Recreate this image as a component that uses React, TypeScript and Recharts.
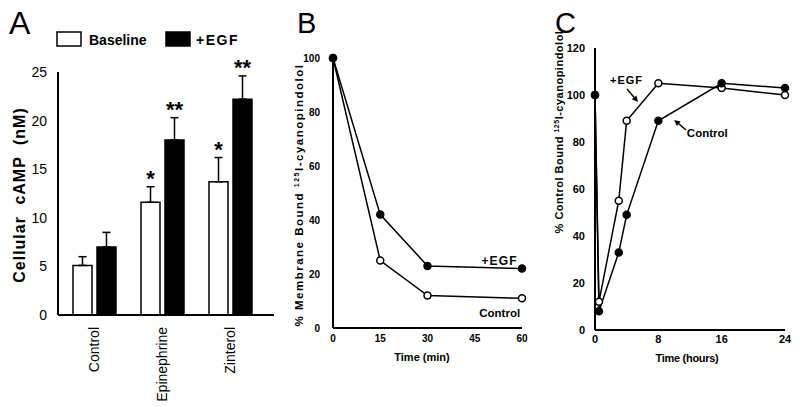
import React from "react";
import {
  BarChart,
  Bar,
  ErrorBar,
  LabelList,
  LineChart,
  Line,
  XAxis,
  YAxis,
  ReferenceDot,
  ReferenceLine,
} from "recharts";

// Panel A: cellular cAMP
const CATEGORIES = ["Control", "Epinephrine", "Zinterol"];
const BASELINE = [5.1, 11.6, 13.7];
const BASELINE_ERR = [0.9, 1.6, 2.5];
const BASELINE_SIG = ["", "*", "*"];
const EGF = [7.0, 18.0, 22.2];
const EGF_ERR = [1.5, 2.3, 2.4];
const EGF_SIG = ["", "**", "**"];
const A_TICKS = [0, 5, 10, 15, 20, 25];

// Panel B: membrane bound, time in minutes
const B_TIME = [0, 15, 30, 60];
const B_EGF = [100, 42, 23, 22];
const B_CONTROL = [100, 25, 12, 11];
const B_XTICKS = [0, 15, 30, 45, 60];
const B_YTICKS = [0, 20, 40, 60, 80, 100];

// Panel C: recovery, time in hours
const C_TIME = [0, 0.5, 3, 4, 8, 16, 24];
const C_EGF = [100, 12, 55, 89, 105, 103, 100];
const C_CONTROL = [100, 8, 33, 49, 89, 105, 103];
const C_XTICKS = [0, 8, 16, 24];
const C_YTICKS = [0, 20, 40, 60, 80, 100, 120];

const FONT = "'Liberation Sans', Arial, sans-serif";

const barData = CATEGORIES.map((name, i) => ({
  name,
  baseline: BASELINE[i],
  baselineErr: [0, BASELINE_ERR[i]],
  baselineSig: BASELINE_SIG[i],
  egf: EGF[i],
  egfErr: [0, EGF_ERR[i]],
  egfSig: EGF_SIG[i],
}));

const bData = B_TIME.map((t, i) => ({ t, egf: B_EGF[i], control: B_CONTROL[i] }));
const cData = C_TIME.map((t, i) => ({ t, egf: C_EGF[i], control: C_CONTROL[i] }));

const CategoryTick = ({ x, y, payload }: any) => (
  <text
    transform={`translate(${x},${y + 10}) rotate(-90)`}
    textAnchor="end"
    dy="0.35em"
    fontSize={14}
    fontFamily={FONT}
    fill="#000"
  >
    {payload.value}
  </text>
);

// asterisks sit above the error bar top; bar height/value gives px per unit
const sigLabel = (vals: number[], errs: number[]) => (props: any) => {
  const { x, y, width, height, value, index } = props;
  if (!value) return null;
  const perUnit = height / vals[index];
  const top = y - errs[index] * perUnit;
  return (
    <text
      x={x + width / 2}
      y={top - 1}
      textAnchor="middle"
      fontSize={22}
      fontWeight="bold"
      fontFamily={FONT}
      fill="#000"
    >
      {value}
    </text>
  );
};

const openDot = { r: 3.5, fill: "#fff", stroke: "#000", strokeWidth: 1.5 };
const filledDot = { r: 3.5, fill: "#000", stroke: "#000", strokeWidth: 1.5 };

const Arrow = (props: any) => {
  const { x1, y1, x2, y2 } = props;
  const a = Math.atan2(y2 - y1, x2 - x1);
  const L = 6;
  const w = 3;
  const bx = x2 - L * Math.cos(a);
  const by = y2 - L * Math.sin(a);
  const px = -Math.sin(a) * w;
  const py = Math.cos(a) * w;
  return (
    <g>
      <line x1={x1} y1={y1} x2={bx} y2={by} stroke="#000" strokeWidth={1.5} />
      <polygon points={`${x2},${y2} ${bx + px},${by + py} ${bx - px},${by - py}`} fill="#000" />
    </g>
  );
};

const textAt =
  (text: string, anchor: "start" | "end", size: number, spacing = 0) =>
  (props: any) =>
    (
      <text
        x={props.cx}
        y={props.cy}
        dy="0.35em"
        textAnchor={anchor}
        fontSize={size}
        fontWeight="bold"
        fontFamily={FONT}
        letterSpacing={spacing}
        fill="#000"
      >
        {text}
      </text>
    );

const tickStyle = { fill: "#000", fontSize: 10, fontWeight: "bold", fontFamily: FONT };

export default function App() {
  return (
    <div style={{ position: "absolute", left: 0, top: 0, width: 800, height: 407, background: "#fff" }}>
      {/* A */}
      <div style={{ position: "absolute", left: 0, top: 0 }}>
        <BarChart
          width={280}
          height={407}
          data={barData}
          margin={{ top: 72, right: 6, left: 0, bottom: 0 }}
          barGap={5}
          barSize={19}
        >
          <XAxis
            dataKey="name"
            height={92}
            interval={0}
            padding={{ left: 2, right: 10 }}
            tick={<CategoryTick />}
            tickLine={false}
            tickSize={0}
            axisLine={{ stroke: "#000", strokeWidth: 2 }}
          />
          <YAxis
            width={58}
            domain={[0, 25]}
            ticks={A_TICKS}
            tickLine={false}
            tickSize={0}
            tickMargin={11}
            axisLine={{ stroke: "#000", strokeWidth: 2 }}
            tick={{ fill: "#000", fontSize: 14, fontFamily: FONT }}
          />
          <Bar dataKey="baseline" fill="#fff" stroke="#000" strokeWidth={1.5} isAnimationActive={false}>
            <ErrorBar dataKey="baselineErr" direction="y" width={4} stroke="#000" strokeWidth={1.5} />
            <LabelList dataKey="baselineSig" content={sigLabel(BASELINE, BASELINE_ERR)} />
          </Bar>
          <Bar dataKey="egf" fill="#000" stroke="#000" strokeWidth={1.5} isAnimationActive={false}>
            <ErrorBar dataKey="egfErr" direction="y" width={4} stroke="#000" strokeWidth={1.5} />
            <LabelList dataKey="egfSig" content={sigLabel(EGF, EGF_ERR)} />
          </Bar>
        </BarChart>
      </div>

      {/* B */}
      <div style={{ position: "absolute", left: 270, top: 0 }}>
        <LineChart width={270} height={407} data={bData} margin={{ top: 58, right: 18, left: 0, bottom: 43 }}>
          <XAxis
            dataKey="t"
            type="number"
            domain={[0, 60]}
            ticks={B_XTICKS}
            height={36}
            tickLine={false}
            tickSize={0}
            tickMargin={7}
            axisLine={{ stroke: "#000", strokeWidth: 2 }}
            tick={tickStyle}
          />
          <YAxis
            width={63}
            domain={[0, 100]}
            ticks={B_YTICKS}
            tickLine={false}
            tickSize={0}
            tickMargin={13}
            axisLine={{ stroke: "#000", strokeWidth: 2 }}
            tick={tickStyle}
          />
          <Line dataKey="control" stroke="#000" strokeWidth={1.5} dot={openDot} isAnimationActive={false} />
          <Line dataKey="egf" stroke="#000" strokeWidth={1.5} dot={filledDot} isAnimationActive={false} />
          <ReferenceDot x={58.7} y={24.8} r={0} shape={textAt("+EGF", "end", 12, 1.2)} />
          <ReferenceDot x={59.4} y={5.6} r={0} shape={textAt("Control", "end", 11.5)} />
        </LineChart>
      </div>

      {/* C */}
      <div style={{ position: "absolute", left: 530, top: 0 }}>
        <LineChart width={270} height={407} data={cData} margin={{ top: 48, right: 15, left: 0, bottom: 41 }}>
          <XAxis
            dataKey="t"
            type="number"
            domain={[0, 24]}
            ticks={C_XTICKS}
            height={36}
            tickLine={false}
            tickSize={0}
            tickMargin={5}
            axisLine={{ stroke: "#000", strokeWidth: 2 }}
            tick={{ ...tickStyle, fontSize: 11 }}
          />
          <YAxis
            width={65}
            domain={[0, 120]}
            ticks={C_YTICKS}
            tickLine={false}
            tickSize={0}
            tickMargin={10}
            axisLine={{ stroke: "#000", strokeWidth: 2 }}
            tick={{ ...tickStyle, fontSize: 11 }}
          />
          <Line dataKey="egf" stroke="#000" strokeWidth={1.5} dot={openDot} isAnimationActive={false} />
          <Line dataKey="control" stroke="#000" strokeWidth={1.5} dot={filledDot} isAnimationActive={false} />
          <ReferenceLine segment={[{ x: 4.04, y: 102.6 }, { x: 5.43, y: 97.0 }]} shape={Arrow} />
          <ReferenceLine segment={[{ x: 11.5, y: 85.1 }, { x: 10.0, y: 89.4 }]} shape={Arrow} />
          <ReferenceDot x={1.9} y={106.4} r={0} shape={textAt("+EGF", "start", 11, 1)} />
          <ReferenceDot x={11.6} y={83.8} r={0} shape={textAt("Control", "start", 11.5)} />
        </LineChart>
      </div>

      {/* titles, legend and panel letters */}
      <svg
        width={800}
        height={407}
        style={{ position: "absolute", left: 0, top: 0, pointerEvents: "none" }}
        fontFamily={FONT}
      >
        <text x={9} y={34} fontSize={32}>A</text>
        <text x={297} y={33} fontSize={29}>B</text>
        <text x={555} y={33} fontSize={29}>C</text>

        <rect x={57} y={32} width={24} height={14} fill="#fff" stroke="#000" strokeWidth={1.5} />
        <text x={89} y={45} fontSize={14} fontWeight="bold">Baseline</text>
        <rect x={166} y={32} width={24} height={14} fill="#000" stroke="#000" strokeWidth={1.5} />
        <text x={196} y={45} fontSize={14} fontWeight="bold" letterSpacing={1.5}>+EGF</text>

        <text
          transform="translate(25,195) rotate(-90)"
          textAnchor="middle"
          fontSize={16}
          fontWeight="bold"
          letterSpacing={1}
          wordSpacing={6}
        >
          Cellular cAMP (nM)
        </text>

        <text
          transform="translate(303,195) rotate(-90)"
          textAnchor="middle"
          fontSize={11.5}
          fontWeight="bold"
          letterSpacing={1.5}
        >
          % Membrane Bound <tspan fontSize={7} dy={-4}>125</tspan>
          <tspan dy={4}>I-cyanopindolol</tspan>
        </text>
        <text x={422} y={361} textAnchor="middle" fontSize={11} fontWeight="bold">
          Time (min)
        </text>

        <text
          transform="translate(563,132) rotate(-90)"
          textAnchor="middle"
          fontSize={11}
          fontWeight="bold"
          letterSpacing={0.5}
        >
          % Control Bound <tspan fontSize={7} dy={-4}>125</tspan>
          <tspan dy={4}>I-cyanopindolol</tspan>
        </text>
        <text x={687} y={362} textAnchor="middle" fontSize={11} fontWeight="bold" letterSpacing={-0.3}>
          Time (hours)
        </text>
      </svg>
    </div>
  );
}
